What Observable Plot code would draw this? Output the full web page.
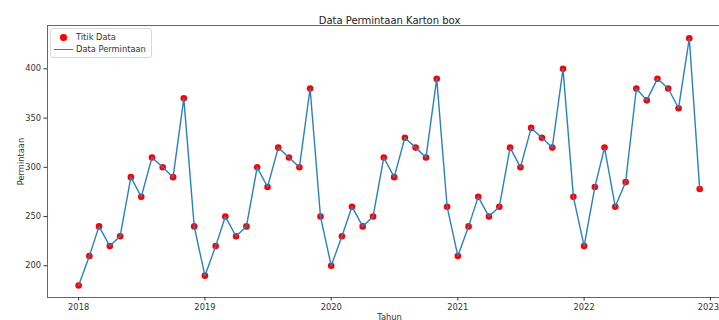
<!DOCTYPE html>
<html>
<head>
<meta charset="utf-8">
<script src="https://cdn.jsdelivr.net/npm/d3@7"></script>
<script src="https://cdn.jsdelivr.net/npm/@observablehq/plot@0.6"></script>
<style>
  body { margin: 0; background: #fff; }
  #wrap { position: relative; width: 719px; height: 320px; overflow: hidden; font-family: "DejaVu Sans", sans-serif; }
  #chart { width: 731px; }
  #chart svg { max-width: none !important; }
  #legend { position: absolute; left: 50px; top: 28px; width: 100px; height: 28px; border: 1px solid #d8d8d8; border-radius: 3px; background: rgba(255,255,255,0.85); font-size: 8.3px; color: #333; }
  .row { position: absolute; left: 0; height: 12px; display: flex; align-items: center; }
  .sym { width: 24px; position: relative; height: 12px; }
  .dot { position: absolute; left: 9px; top: 3px; width: 6.5px; height: 6.5px; border-radius: 50%; background: red; }
  .ln { position: absolute; left: 3px; top: 5.5px; width: 19px; height: 1.5px; background: #2a80bb; }
</style>
</head>
<body>
<div id="wrap">
  <div id="chart"></div>
  <div id="legend">
    <div class="row" style="top:2px"><div class="sym"><div class="dot"></div></div><span style="margin-left:1px">Titik Data</span></div>
    <div class="row" style="top:14px"><div class="sym"><div class="ln"></div></div><span style="margin-left:1px">Data Permintaan</span></div>
  </div>
</div>
<script>
const title = "Data Permintaan Karton box";
const xLabel = "Tahun";
const yLabel = "Permintaan";
const years = [2018, 2019, 2020, 2021, 2022];
const values2018 = [180, 210, 240, 220, 230, 290, 270, 310, 300, 290, 370, 240];
const values2019 = [190, 220, 250, 230, 240, 300, 280, 320, 310, 300, 380, 250];
const values2020 = [200, 230, 260, 240, 250, 310, 290, 330, 320, 310, 390, 260];
const values2021 = [210, 240, 270, 250, 260, 320, 300, 340, 330, 320, 400, 270];
const values2022 = [220, 280, 320, 260, 285, 380, 368, 390, 380, 360, 431, 278];
const yTicks = [200, 250, 300, 350, 400];
const xTickYears = [2018, 2019, 2020, 2021, 2022, 2023];

const series = [values2018, values2019, values2020, values2021, values2022];
const data = [];
series.forEach((arr, i) => arr.forEach((v, m) => data.push({date: new Date(years[i], m, 1), value: v})));

const xTicks = xTickYears.map(y => new Date(y, 0, 1));
const fmt = d3.timeFormat("%Y");

const chart = Plot.plot({
  width: 731,
  height: 320,
  marginLeft: 47,
  marginRight: 0,
  marginTop: 25,
  marginBottom: 23,
  style: {fontFamily: "DejaVu Sans, sans-serif", fontSize: "8.3px", color: "#333", background: "#fff", maxWidth: "none"},
  x: {type: "time", domain: [new Date(2017, 9, 3), new Date(2023, 2, 3)]},
  y: {domain: [167.8, 444]},
  marks: [
    Plot.frame({stroke: "#666", strokeWidth: 1}),
    Plot.axisY({ticks: yTicks, tickSize: 3.5, tickPadding: 3, label: yLabel, labelAnchor: "center", labelOffset: 29, labelArrow: "none"}),
    Plot.axisX({ticks: xTicks, tickSize: 3.5, text: null, label: xLabel, labelAnchor: "center", labelOffset: 22, labelArrow: "none"}),
    Plot.axisX({ticks: xTicks.slice(0, -1), tickSize: 0, tickPadding: 6.5, tickFormat: fmt, label: null}),
    Plot.axisX({ticks: xTicks.slice(-1), tickSize: 0, tickPadding: 6.5, tickFormat: fmt, label: null, dx: -2}),
    Plot.dot(data, {x: "date", y: "value", r: 3.3, fill: "red", stroke: "none"}),
    Plot.line(data, {x: "date", y: "value", stroke: "#2a80bb", strokeWidth: 1.4}),
    Plot.text([title], {text: d => d, frameAnchor: "top", dy: -9, fontSize: 10, fill: "#222"})
  ]
});
document.getElementById("chart").appendChild(chart);
</script>
</body>
</html>
